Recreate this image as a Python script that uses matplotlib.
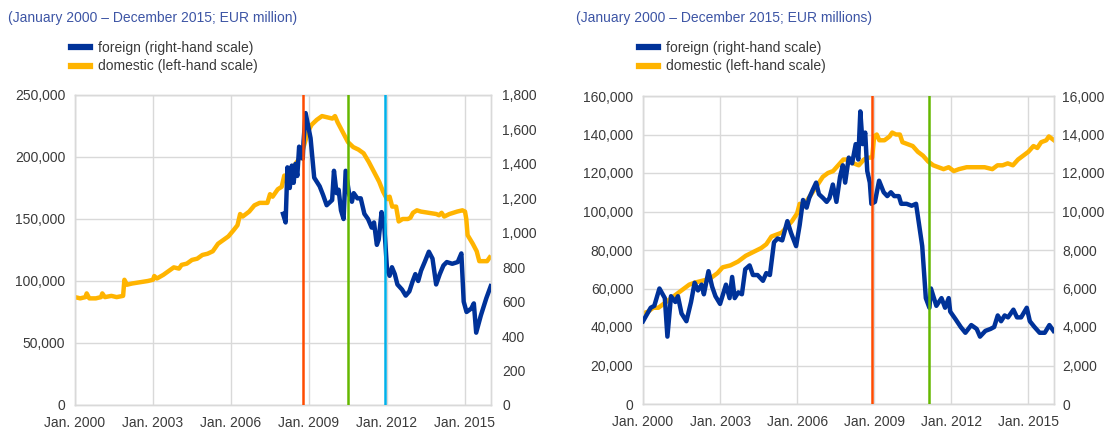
import matplotlib
matplotlib.use("Agg")
import matplotlib.pyplot as plt
from matplotlib.lines import Line2D
from matplotlib.ticker import FuncFormatter

plt.rcParams['font.family'] = ['Liberation Sans', 'DejaVu Sans']
plt.rcParams['font.size'] = 10

# ---- data (decimal years, EUR million) ----
titles = ["(January 2000 \u2013 December 2015; EUR million)",
          "(January 2000 \u2013 December 2015; EUR millions)"]
labels = ["foreign (right-hand scale)", "domestic (left-hand scale)"]
year_ticks = [2000, 2003, 2006, 2009, 2012, 2015]
year_labels = ["Jan. 2000", "Jan. 2003", "Jan. 2006", "Jan. 2009", "Jan. 2012", "Jan. 2015"]

# left chart
dom1_t = [2000.0, 2000.2, 2000.4, 2000.45, 2000.55, 2000.8, 2001.0, 2001.05, 2001.15, 2001.4,
          2001.6, 2001.85, 2001.9, 2002.0, 2002.2, 2002.5, 2002.8, 2003.0, 2003.05, 2003.15,
          2003.4, 2003.6, 2003.8, 2004.0, 2004.1, 2004.3, 2004.5, 2004.7, 2004.9, 2005.1,
          2005.3, 2005.5, 2005.7, 2005.9, 2006.1, 2006.25, 2006.35, 2006.45, 2006.7, 2006.9,
          2007.1, 2007.4, 2007.5, 2007.6, 2007.8, 2007.95, 2008.05, 2008.3, 2008.4, 2008.6,
          2008.75, 2008.9, 2009.0, 2009.1, 2009.3, 2009.5, 2009.7, 2009.9, 2010.0, 2010.1,
          2010.3, 2010.5, 2010.7, 2010.9, 2011.1, 2011.3, 2011.5, 2011.7, 2011.85, 2012.0,
          2012.1, 2012.2, 2012.35, 2012.45, 2012.6, 2012.8, 2012.9, 2013.0, 2013.15, 2013.3,
          2013.6, 2013.9, 2014.0, 2014.1, 2014.2, 2014.4, 2014.7, 2014.9, 2015.0, 2015.05,
          2015.1, 2015.3, 2015.45, 2015.55, 2015.7, 2015.85, 2015.95]
dom1_v = [87, 86, 87, 90, 86, 86, 87, 90, 87, 88,
          87, 88, 101, 97, 98, 99, 100, 101, 104, 102,
          105, 108, 111, 110, 113, 114, 117, 118, 121, 122,
          124, 130, 133, 136, 141, 145, 154, 152, 156, 161,
          163, 163, 170, 168, 174, 176, 185, 185, 192, 198,
          205, 216, 222, 226, 230, 233, 232, 231, 233, 228,
          220, 212, 208, 206, 203, 196, 188, 180, 172, 166,
          168, 160, 160, 148, 150, 150, 151, 155, 157, 156,
          155, 154, 153, 155, 152, 154, 156, 157, 156, 150,
          137, 130, 124, 116, 116, 116, 119]
dom1_v = [v * 1000 for v in dom1_v]

for1_t = [2008.0, 2008.1, 2008.17, 2008.26, 2008.34, 2008.41, 2008.48, 2008.55, 2008.62, 2008.68,
          2008.76, 2008.79, 2008.87, 2009.06, 2009.2, 2009.41, 2009.54, 2009.68, 2009.89, 2009.96,
          2010.06, 2010.14, 2010.23, 2010.33, 2010.41, 2010.55, 2010.65, 2010.72, 2010.86, 2010.99,
          2011.13, 2011.27, 2011.41, 2011.5, 2011.61, 2011.68, 2011.79, 2011.89, 2012.0, 2012.1,
          2012.19, 2012.3, 2012.4, 2012.58, 2012.72, 2012.86, 2012.99, 2013.09, 2013.2, 2013.31,
          2013.45, 2013.61, 2013.75, 2013.89, 2014.03, 2014.17, 2014.3, 2014.51, 2014.72, 2014.86,
          2014.95, 2015.06, 2015.24, 2015.34, 2015.43, 2015.61, 2015.82, 2015.99]
for1_v = [1110, 1060, 1380, 1260, 1390, 1290, 1400, 1330, 1500, 1450,
          1430, 1530, 1695, 1550, 1320, 1270, 1220, 1160, 1190, 1360,
          1230, 1250, 1130, 1080, 1360, 1220, 1180, 1230, 1200, 1200,
          1110, 1080, 1030, 1060, 930, 960, 1120, 1050, 790, 750,
          800, 760, 700, 670, 635, 660, 720, 760, 720, 780,
          830, 890, 850, 700, 760, 810, 830, 820, 830, 880,
          600, 540, 560, 590, 420, 520, 620, 690]
events1 = [2008.76, 2010.51, 2011.93]
events1_colors = ["#FF4B00", "#65B800", "#00B1EA"]

# right chart
dom2_t = [2000.0, 2000.2, 2000.4, 2000.6, 2000.8, 2001.0, 2001.2, 2001.4, 2001.6, 2001.8,
          2002.0, 2002.3, 2002.6, 2002.9, 2003.1, 2003.4, 2003.7, 2004.0, 2004.3, 2004.6,
          2004.8, 2005.0, 2005.2, 2005.4, 2005.6, 2005.8, 2006.0, 2006.1, 2006.2, 2006.4,
          2006.6, 2006.8, 2007.0, 2007.2, 2007.4, 2007.6, 2007.8, 2008.0, 2008.2, 2008.4,
          2008.6, 2008.8, 2008.92, 2009.0, 2009.1, 2009.2, 2009.4, 2009.6, 2009.7, 2009.85,
          2010.0, 2010.1, 2010.3, 2010.5, 2010.7, 2010.9, 2011.1, 2011.3, 2011.5, 2011.7,
          2011.9, 2012.1, 2012.3, 2012.6, 2012.8, 2013.0, 2013.3, 2013.6, 2013.8, 2014.0,
          2014.2, 2014.4, 2014.6, 2014.8, 2015.0, 2015.2, 2015.35, 2015.5, 2015.7, 2015.8,
          2016.0]
dom2_v = [47, 48, 50, 50, 52, 54, 56, 58, 60, 62,
          63, 64, 65, 68, 71, 72, 74, 77, 79, 81,
          83, 87, 88, 89, 92, 95, 99, 104, 102, 106,
          110, 114, 118, 120, 121, 124, 127, 127, 125, 124,
          127, 128, 128, 139, 140, 137, 137, 139, 141, 140,
          140, 136, 135, 134, 131, 129, 126, 124, 123, 122,
          123, 121, 122, 123, 123, 123, 123, 122, 124, 124,
          125, 124, 127, 129, 131, 134, 133, 136, 137, 139,
          137]
dom2_v = [v * 1000 for v in dom2_v]

for2_t = [2000.0, 2000.3, 2000.44, 2000.64, 2000.85, 2000.95, 2001.09, 2001.26, 2001.36, 2001.5,
          2001.69, 2001.87, 2002.01, 2002.14, 2002.28, 2002.37, 2002.55, 2002.69, 2002.82, 2003.0,
          2003.23, 2003.37, 2003.47, 2003.57, 2003.71, 2003.85, 2003.98, 2004.15, 2004.28, 2004.46,
          2004.67, 2004.8, 2004.94, 2005.1, 2005.24, 2005.42, 2005.62, 2005.76, 2005.96, 2006.1,
          2006.23, 2006.37, 2006.47, 2006.6, 2006.74, 2006.85, 2007.01, 2007.15, 2007.26, 2007.39,
          2007.53, 2007.67, 2007.78, 2007.87, 2008.01, 2008.14, 2008.28, 2008.38, 2008.46, 2008.55,
          2008.65, 2008.73, 2008.83, 2008.89, 2009.03, 2009.19, 2009.37, 2009.51, 2009.65, 2009.78,
          2009.96, 2010.05, 2010.26, 2010.46, 2010.63, 2010.87, 2011.01, 2011.15, 2011.21, 2011.42,
          2011.62, 2011.76, 2011.9, 2011.96, 2012.17, 2012.37, 2012.55, 2012.78, 2012.99, 2013.12,
          2013.33, 2013.53, 2013.67, 2013.81, 2013.94, 2014.08, 2014.21, 2014.42, 2014.56, 2014.72,
          2014.94, 2015.06, 2015.24, 2015.44, 2015.64, 2015.82, 2015.98]
for2_v = [4300, 5000, 5100, 6000, 5500, 3500, 5600, 5300, 5600, 4700,
          4300, 5300, 6300, 5900, 6200, 5700, 6900, 6100, 5600, 5200,
          6200, 5500, 6600, 5500, 5800, 5700, 7000, 7200, 6700, 6700,
          6400, 6800, 6700, 8400, 8600, 8500, 9500, 8900, 8200, 9300,
          10600, 10200, 10700, 11100, 11500, 10900, 10700, 10500, 10700, 11400,
          10500, 11800, 12400, 11500, 12800, 12500, 13500, 12700, 15200, 13500,
          14100, 12100, 11500, 10400, 10500, 11600, 11000, 10800, 11000, 10800,
          10800, 10400, 10400, 10300, 10400, 8200, 5500, 5000, 6000, 5100,
          5500, 5000, 5500, 4800, 4400, 4000, 3700, 4100, 3900, 3500,
          3800, 3900, 4000, 4600, 4300, 4600, 4500, 4900, 4500, 4500,
          5000, 4300, 4000, 3700, 3700, 4100, 3800]
events2 = [2008.91, 2011.12]
events2_colors = ["#FF4B00", "#65B800"]

BLUE = "#003299"
YELLOW = "#FFB400"
GRID = "#d9d9d9"
TXT = "#3a3a3a"

fmt = FuncFormatter(lambda v, p: f"{int(v):,}")

fig = plt.figure(figsize=(11.08, 4.3), dpi=100)


def panel(rect, title_x, title, dom_t, dom_v, for_t, for_v, ylim, rlim, ystep, rstep,
          events, ev_colors, rpad):
    ax = fig.add_axes(rect)
    ax2 = ax.twinx()
    ax.plot(dom_t, dom_v, color=YELLOW, lw=3.2, solid_joinstyle='round', zorder=3)
    ax2.plot(for_t, for_v, color=BLUE, lw=3.2, solid_joinstyle='round', zorder=3)
    for e, c in zip(events, ev_colors):
        ax2.axvline(e, color=c, lw=1.8, zorder=4)

    ax.set_xlim(2000, 2016)
    ax.set_ylim(*ylim)
    ax2.set_ylim(*rlim)
    ax.set_yticks(range(0, ylim[1] + 1, ystep))
    ax2.set_yticks(range(0, rlim[1] + 1, rstep))
    ax.yaxis.set_major_formatter(fmt)
    ax2.yaxis.set_major_formatter(fmt)
    ax.set_xticks(year_ticks)
    ax.set_xticklabels(year_labels)
    ax.grid(True, color=GRID, lw=1)
    ax.set_axisbelow(True)
    ax.tick_params(length=0, labelsize=10, colors=TXT, pad=7)
    ax.tick_params(axis='x', pad=8)
    ax2.tick_params(length=0, labelsize=10, colors=TXT, pad=rpad)
    for a in (ax, ax2):
        for s in a.spines.values():
            s.set_color(GRID)
            s.set_linewidth(1)

    fig.text(title_x, 1 - 18 / 430, title, color="#3d55a5", fontsize=10, va="center")
    handles = [Line2D([], [], color=BLUE, lw=4.5), Line2D([], [], color=YELLOW, lw=4.5)]
    fig.legend(handles, labels, loc="center left",
               bbox_to_anchor=(title_x + 63 / 1108, 1 - 57 / 430),
               frameon=False, handlelength=1.35, handletextpad=0.6, labelspacing=0.35,
               borderpad=0, borderaxespad=0, fontsize=10, labelcolor=TXT)


panel([75 / 1108, 25 / 430, 416 / 1108, 310 / 430], 8 / 1108, titles[0],
      dom1_t, dom1_v, for1_t, for1_v, (0, 250000), (0, 1800), 50000, 200,
      events1, events1_colors, 8)
panel([643 / 1108, 26 / 430, 411 / 1108, 308 / 430], 576 / 1108, titles[1],
      dom2_t, dom2_v, for2_t, for2_v, (0, 160000), (0, 16000), 20000, 2000,
      events2, events2_colors, 6)

fig.savefig("out.png", dpi=100)
